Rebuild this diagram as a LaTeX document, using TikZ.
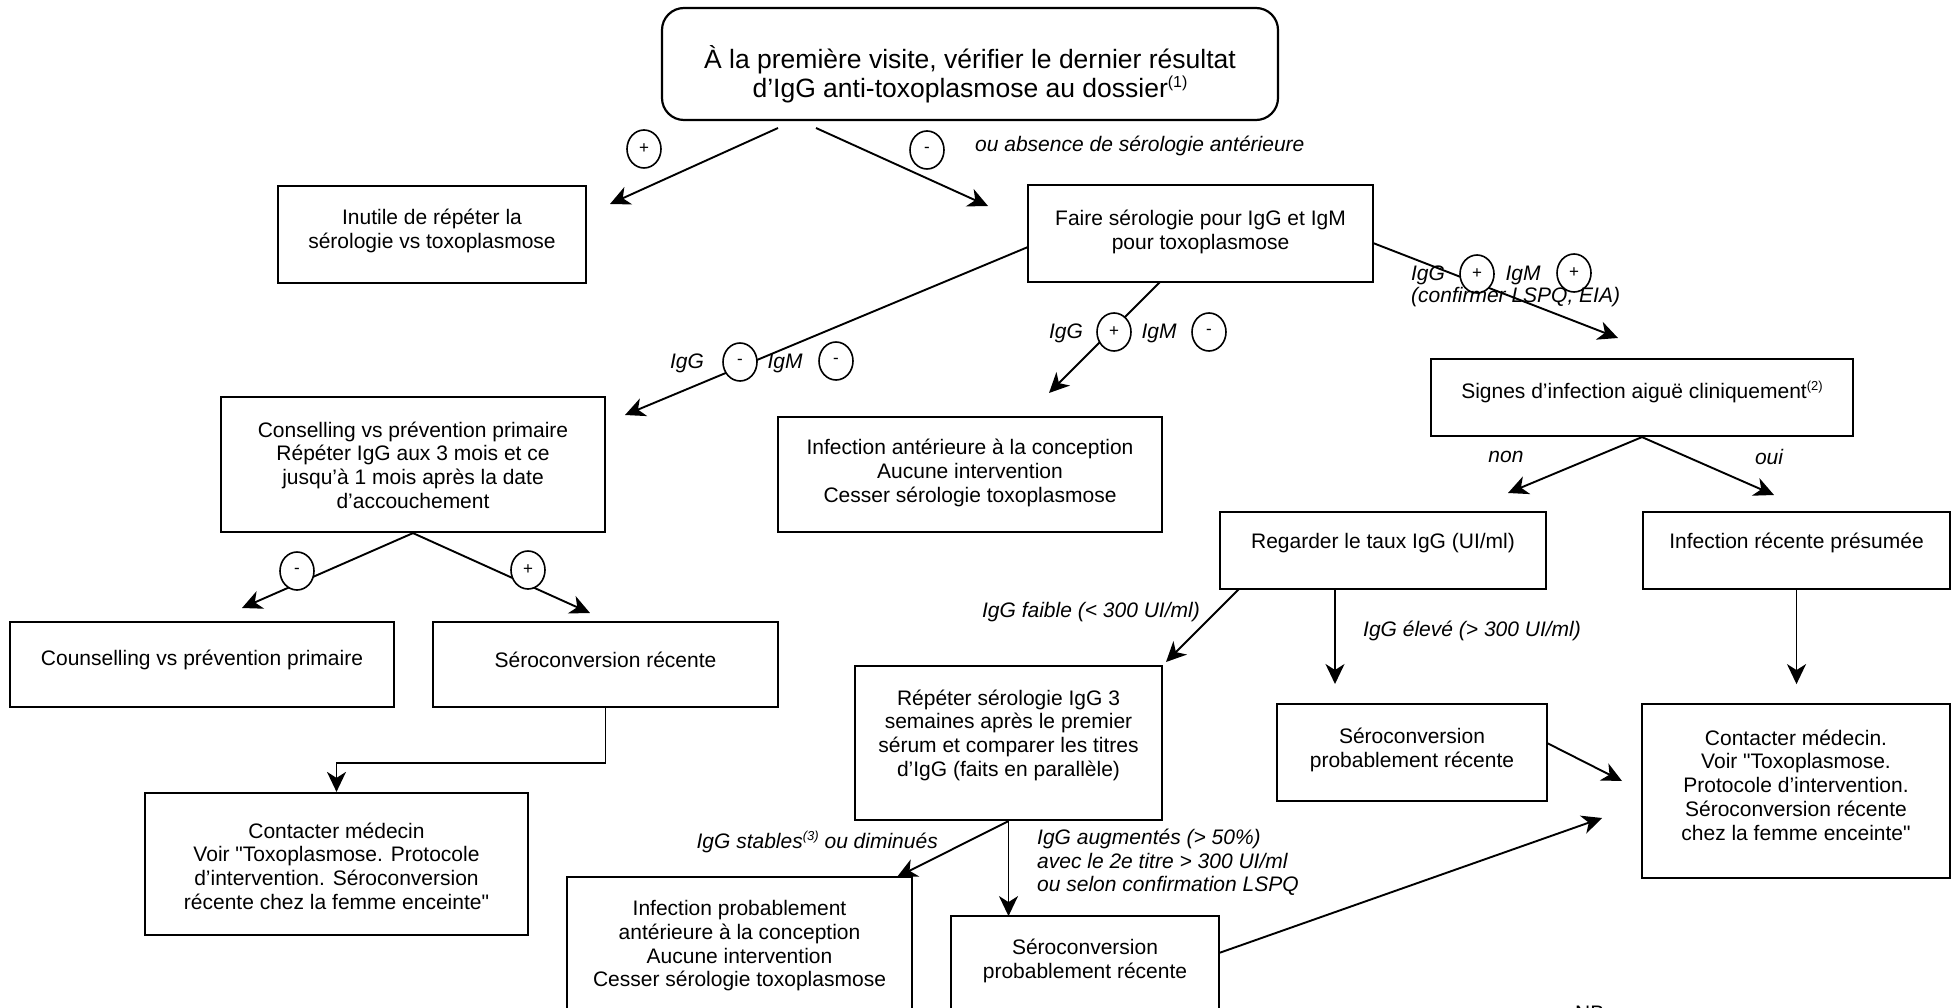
\documentclass[tikz,border=0pt]{standalone}
\usepackage{fontspec}
\setmainfont{Liberation Sans}[Ligatures=TeXOff]
\usetikzlibrary{arrows.meta,shapes.geometric}
\newcommand\supA[1]{\raisebox{8pt}{\fontsize{13}{13}\selectfont #1}}
\newcommand\supT[1]{\raisebox{10pt}{\fontsize{16}{16}\selectfont #1}}
\begin{document}
\begin{tikzpicture}[x=1pt,y=-1pt,
  box/.style={draw, line width=2.2pt, rectangle, inner sep=0pt},
  txt/.style={align=center, font=\fontsize{21}{23.7}\selectfont, inner sep=0pt},
  lab/.style={font=\fontsize{21}{23.5}\selectfont\itshape, inner sep=0pt},
  sgn/.style={draw, ellipse, line width=1.6pt, fill=white, minimum width=34pt, minimum height=38pt, inner sep=0pt, font=\fontsize{17}{18}\selectfont},
  conn/.style={line width=1.9pt, -{Stealth[length=20pt,width=19pt,inset=6pt]}}
]
\fill[white] (0,0) rectangle (1960,1008);
\useasboundingbox (0,0) rectangle (1960,1008);
\clip (0,0) rectangle (1960,1008);

% ---------- boxes ----------
\node[box, rounded corners=22pt, minimum width=616pt, minimum height=112pt] (top) at (970,64) {};
\node[txt, font=\fontsize{26.5}{29}\selectfont] (toptxt) at (970,74) {À la première visite, vérifier le dernier résultat\\d’IgG anti-toxoplasmose au dossier\supT{(1)}};

\node[box, minimum width=308pt, minimum height=97pt] (inutile) at (432,234.5) {};
\node[txt] (inutiletxt) at (432,231) {Inutile de répéter la\\sérologie vs toxoplasmose};

\node[box, minimum width=345pt, minimum height=97pt] (faire) at (1200.5,233.5) {};
\node[txt] (fairetxt) at (1200.5,232) {Faire sérologie pour IgG et IgM\\pour toxoplasmose};

\node[box, minimum width=384pt, minimum height=135pt] (consel) at (413,464.5) {};
\node[txt] (conseltxt) at (413,465) {Conselling vs prévention primaire\\Répéter IgG aux 3 mois et ce\\jusqu’à 1 mois après la date\\d’accouchement};

\node[box, minimum width=384pt, minimum height=115pt] (infant) at (970,474.5) {};
\node[txt] (infanttxt) at (970,473) {Infection antérieure à la conception\\Aucune intervention\\Cesser sérologie toxoplasmose};

\node[box, minimum width=422pt, minimum height=77pt] (signes) at (1642,397.5) {};
\node[txt] (signestxt) at (1642,392) {Signes d’infection aiguë cliniquement\supA{(2)}};

\node[box, minimum width=326pt, minimum height=77pt] (regarder) at (1383,550.5) {};
\node[txt] (regardertxt) at (1383,543) {Regarder le taux IgG (UI/ml)};

\node[box, minimum width=307pt, minimum height=77pt] (infrec) at (1796.5,550.5) {};
\node[txt] (infrectxt) at (1796.5,543) {Infection récente présumée};

\node[box, minimum width=384pt, minimum height=85pt] (counsel) at (202,664.5) {};
\node[txt] (counseltxt) at (202,660) {Counselling vs prévention primaire};

\node[box, minimum width=345pt, minimum height=85pt] (serorec) at (605.5,664.5) {};
\node[txt] (serorectxt) at (605.5,660) {Séroconversion récente};

\node[box, minimum width=383pt, minimum height=142pt] (contactL) at (336.5,864) {};
\node[txt] (contactLtxt) at (336.5,866) {Contacter médecin\\Voir "Toxoplasmose. Protocole\\d’intervention. Séroconversion\\récente chez la femme enceinte"};

\node[box, minimum width=307pt, minimum height=154pt] (repeter) at (1008.5,743) {};
\node[txt] (repetertxt) at (1008.5,735) {Répéter sérologie IgG 3\\semaines après le premier\\sérum et comparer les titres\\d’IgG (faits en parallèle)};

\node[box, minimum width=270pt, minimum height=97pt] (seromid) at (1412,752.5) {};
\node[txt] (seromidtxt) at (1412,750) {Séroconversion\\probablement récente};

\node[box, minimum width=308pt, minimum height=174pt] (contactR) at (1796,791) {};
\node[txt] (contactRtxt) at (1796,785) {Contacter médecin.\\Voir "Toxoplasmose.\\Protocole d’intervention.\\Séroconversion récente\\chez la femme enceinte"};

\node[box, minimum width=345pt, minimum height=163pt] (infprob) at (739.5,958.5) {};
\node[txt] (infprobtxt) at (739.5,946) {Infection probablement\\antérieure à la conception\\Aucune intervention\\Cesser sérologie toxoplasmose};

\node[box, minimum width=268pt, minimum height=124pt] (serobot) at (1085,978) {};
\node[txt] (serobottxt) at (1085,961) {Séroconversion\\probablement récente};

\node[txt, anchor=base west] (nb) at (1575,1020) {NB};

% ---------- connector end points ----------
\coordinate (a1s) at (778,128);  \coordinate (a1e) at (610,204);
\coordinate (a2s) at (816,128);  \coordinate (a2e) at (988,206);
\coordinate (c1s) at (1028,247); \coordinate (c1e) at (625,415);
\coordinate (c2s) at (1160,282); \coordinate (c2e) at (1049,393);
\coordinate (c3s) at (1373,243); \coordinate (c3e) at (1618,338);
\coordinate (s1e) at (1508,493); \coordinate (s2e) at (1774,495);
\coordinate (r1s) at (1239,589); \coordinate (r1e) at (1166,662);
\coordinate (r2s) at (1335,589); \coordinate (r2e) at (1335,684);
\coordinate (m1s) at (1547,743); \coordinate (m1e) at (1622,781);
\coordinate (b1s) at (1219,953); \coordinate (b1e) at (1602,818);
\coordinate (p1e) at (897,877);
\coordinate (k1e) at (242,608);  \coordinate (k2e) at (590,613);

% ---------- connectors ----------
\draw[conn] (a1s) -- (a1e);
\draw[conn] (a2s) -- (a2e);
\draw[conn] (c1s) -- (c1e);
\draw[conn] (c2s) -- (c2e);
\draw[conn] (c3s) -- (c3e);
\draw[conn] (signes.south) -- (s1e);
\draw[conn] (signes.south) -- (s2e);
\draw[conn] (r1s) -- (r1e);
\draw[conn] (r2s) -- (r2e);
\draw[conn] (infrec.south) -- ++(0,94);
\draw[conn] (m1s) -- (m1e);
\draw[conn] (b1s) -- (b1e);
\draw[conn] (repeter.south) -- (p1e);
\draw[conn] (repeter.south) -- ++(0,95);
\draw[conn] (consel.south) -- (k1e);
\draw[conn] (consel.south) -- (k2e);
\draw[conn] (serorec.south) -- ++(0,55) -| (contactL.north);

% ---------- signs and labels ----------
\node[sgn] (sp1) at (644,149) {+};
\node[sgn] (sm1) at (927,150) {-};
\node[lab, anchor=west] (l1) at (975,146) {ou absence de sérologie antérieure};

\node[lab] (l2a) at (687,363) {IgG};
\node[sgn] (sm2) at (740,362) {-};
\node[lab] (l2b) at (785,363) {IgM};
\node[sgn] (sm3) at (836,361) {-};

\node[lab] (l3a) at (1066,333) {IgG};
\node[sgn] (sp3) at (1114,332) {+};
\node[lab] (l3b) at (1159,333) {IgM};
\node[sgn] (sm4) at (1209,332) {-};

\node[lab] (l4a) at (1428,275) {IgG};
\node[sgn] (sp4) at (1477,274) {+};
\node[lab] (l4b) at (1523,275) {IgM};
\node[sgn] (sp5) at (1574,273) {+};
\node[lab, anchor=west] (l4c) at (1411,297) {(confirmer LSPQ, EIA)};

\node[lab] (lnon) at (1506,457) {non};
\node[lab] (loui) at (1769,457) {oui};

\node[lab, anchor=east] (l6) at (1200,612) {IgG faible (< 300 UI/ml)};
\node[lab, anchor=west] (l7) at (1363,631) {IgG élevé (> 300 UI/ml)};
\node[lab, anchor=east] (l8) at (938,842) {IgG stables\supA{(3)} ou diminués};
\node[lab, anchor=north west, align=left] (l9) at (1037,829) {IgG augmentés (> 50\%)\\avec le 2e titre > 300 UI/ml\\ou selon confirmation LSPQ};

\node[sgn] (sm6) at (297,571) {-};
\node[sgn] (sp6) at (528,570) {+};
\end{tikzpicture}
\end{document}
